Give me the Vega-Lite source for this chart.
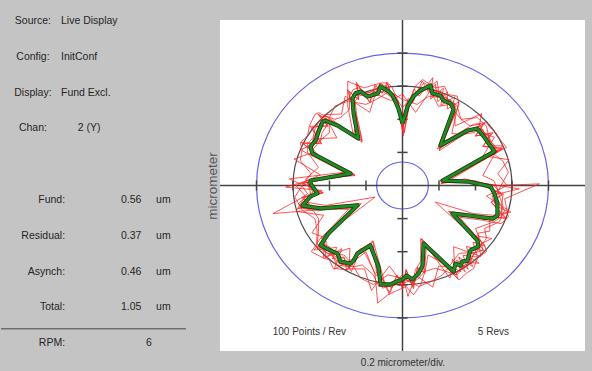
{
  "$schema": "https://vega.github.io/schema/vega-lite/v6.json",
  "background": "#c4c4c4",
  "padding": {"left": 0, "top": 16, "right": 8, "bottom": 5},
  "bounds": "flush",
  "spacing": 23,
  "config": {"font": "Liberation Sans", "view": {"stroke": null}, "axis": {"grid": false}},
  "datasets": {
    "info": [
      {"k": 0, "label": "Source:", "value": "Live Display"},
      {"k": 1, "label": "Config:", "value": "InitConf"},
      {"k": 2, "label": "Display:", "value": "Fund Excl."},
      {"k": 3, "label": "Chan:", "value": "2 (Y)"}
    ],
    "meas": [
      {"k": 5, "label": "Fund:", "value": "0.56", "unit": "um"},
      {"k": 6, "label": "Residual:", "value": "0.37", "unit": "um"},
      {"k": 7, "label": "Asynch:", "value": "0.46", "unit": "um"},
      {"k": 8, "label": "Total:", "value": "1.05", "unit": "um"},
      {"k": 9, "label": "RPM:", "value": "6"}
    ],
    "rings": [
      {"ring": "outer", "r": 4},
      {"ring": "mid", "r": 3},
      {"ring": "inner", "r": 0.71}
    ],
    "ticks": [{"t": -4}, {"t": -3}, {"t": -2}, {"t": -1}, {"t": 1}, {"t": 2}, {"t": 3}, {"t": 4}],
    "green": [
      {"x":0,"y":1.87},{"x":0.14,"y":2.39},{"x":0.3,"y":2.69},{"x":0.49,"y":2.87},{"x":0.77,"y":3.02},{"x":0.82,"y":2.78},{"x":1.04,"y":2.72},{"x":1.12,"y":2.57},{"x":1.32,"y":2.48},{"x":1.4,"y":2.3},{"x":1.04,"y":1.21},{"x":1.78,"y":1.66},{"x":2.05,"y":1.72},{"x":2.14,"y":1.6},{"x":2.25,"y":1.45},{"x":2.36,"y":1.27},{"x":2.52,"y":1.03},{"x":1.1,"y":0.15},{"x":1.78,"y":0.12},{"x":2.41,"y":-0.03},{"x":2.52,"y":-0.24},{"x":2.6,"y":-0.54},{"x":2.6,"y":-0.91},{"x":2.47,"y":-1},{"x":2.05,"y":-0.94},{"x":1.86,"y":-0.91},{"x":1.37,"y":-0.85},{"x":2.05,"y":-1.66},{"x":2.08,"y":-1.84},{"x":1.86,"y":-1.96},{"x":1.78,"y":-2.27},{"x":1.64,"y":-2.3},{"x":1.59,"y":-2.42},{"x":1.45,"y":-2.36},{"x":1.4,"y":-2.6},{"x":0.58,"y":-1.75},{"x":0.55,"y":-2.42},{"x":0.44,"y":-2.66},{"x":0.27,"y":-2.84},{"x":0.11,"y":-2.72},{"x":0,"y":-2.84},{"x":-0.16,"y":-2.9},{"x":-0.33,"y":-2.99},{"x":-0.6,"y":-2.99},{"x":-0.66,"y":-2.45},{"x":-0.88,"y":-1.81},{"x":-1.23,"y":-2.05},{"x":-1.34,"y":-2.27},{"x":-1.42,"y":-2.36},{"x":-1.7,"y":-2.3},{"x":-1.78,"y":-2.05},{"x":-1.92,"y":-1.99},{"x":-2.25,"y":-1.81},{"x":-2.03,"y":-1.45},{"x":-1.23,"y":-0.6},{"x":-2.25,"y":-0.69},{"x":-2.6,"y":-0.63},{"x":-2.74,"y":-0.6},{"x":-2.52,"y":-0.33},{"x":-2.33,"y":-0.24},{"x":-2.52,"y":0.06},{"x":-2.52,"y":0.15},{"x":-1.42,"y":0.36},{"x":-2.47,"y":0.97},{"x":-2.52,"y":1.18},{"x":-2.38,"y":1.36},{"x":-2.3,"y":1.63},{"x":-2.19,"y":1.93},{"x":-2.11,"y":1.96},{"x":-1.78,"y":1.81},{"x":-1.21,"y":1.42},{"x":-1.34,"y":2.18},{"x":-1.37,"y":2.63},{"x":-1.29,"y":2.78},{"x":-1.15,"y":2.84},{"x":-0.96,"y":2.69},{"x":-0.68,"y":2.78},{"x":-0.6,"y":2.99},{"x":-0.38,"y":2.84},{"x":-0.27,"y":2.72},{"x":-0.11,"y":2.33},{"x":0,"y":1.87}
    ],
    "red": [
      {"s":1,"x":0.05,"y":1.6},{"s":1,"x":0.2,"y":2.5},{"s":1,"x":0.35,"y":2.8},{"s":1,"x":0.6,"y":3.1},{"s":1,"x":0.85,"y":2.9},{"s":1,"x":1.1,"y":2.8},{"s":1,"x":1.3,"y":2.55},{"s":1,"x":1.45,"y":2.4},{"s":1,"x":1.0,"y":1.1},{"s":1,"x":1.85,"y":1.7},{"s":1,"x":2.15,"y":1.7},{"s":1,"x":2.3,"y":1.5},{"s":1,"x":2.5,"y":1.2},{"s":1,"x":2.6,"y":1.0},{"s":1,"x":1.05,"y":0.1},{"s":1,"x":1.9,"y":0.15},{"s":1,"x":2.5,"y":0.0},{"s":1,"x":2.75,"y":-0.3},{"s":1,"x":2.7,"y":-0.8},{"s":1,"x":2.5,"y":-1.05},{"s":1,"x":1.9,"y":-0.95},{"s":1,"x":1.3,"y":-0.8},{"s":1,"x":2.1,"y":-1.7},{"s":1,"x":2.0,"y":-2.0},{"s":1,"x":1.8,"y":-2.35},{"s":1,"x":1.6,"y":-2.5},{"s":1,"x":1.45,"y":-2.7},{"s":1,"x":0.6,"y":-1.7},{"s":1,"x":0.5,"y":-2.5},{"s":1,"x":0.3,"y":-2.95},{"s":1,"x":0.05,"y":-2.8},{"s":1,"x":-0.2,"y":-3.0},{"s":1,"x":-0.55,"y":-3.1},{"s":1,"x":-0.7,"y":-2.5},{"s":1,"x":-0.9,"y":-1.75},{"s":1,"x":-1.3,"y":-2.1},{"s":1,"x":-1.45,"y":-2.45},{"s":1,"x":-1.75,"y":-2.35},{"s":1,"x":-2.0,"y":-2.0},{"s":1,"x":-2.3,"y":-1.85},{"s":1,"x":-2.1,"y":-1.45},{"s":1,"x":-1.2,"y":-0.55},{"s":1,"x":-2.3,"y":-0.75},{"s":1,"x":-2.8,"y":-0.65},{"s":1,"x":-2.5,"y":-0.3},{"s":1,"x":-2.6,"y":0.1},{"s":1,"x":-1.4,"y":0.4},{"s":1,"x":-2.5,"y":1.0},{"s":1,"x":-2.45,"y":1.4},{"s":1,"x":-2.25,"y":1.9},{"s":1,"x":-1.8,"y":1.85},{"s":1,"x":-1.2,"y":1.4},{"s":1,"x":-1.35,"y":2.3},{"s":1,"x":-1.3,"y":2.85},{"s":1,"x":-1.0,"y":2.75},{"s":1,"x":-0.6,"y":3.0},{"s":1,"x":-0.3,"y":2.8},{"s":1,"x":-0.1,"y":2.2},{"s":1,"x":0.05,"y":1.6},
      {"s":1,"x":0,"y":1.68},{"s":1,"x":0.15,"y":2.63},{"s":1,"x":0.28,"y":2.5},{"s":1,"x":0.54,"y":3.16},{"s":1,"x":0.72,"y":2.81},{"s":1,"x":0.9,"y":3.06},{"s":1,"x":0.97,"y":2.53},{"s":1,"x":1.23,"y":2.83},{"s":1,"x":1.23,"y":2.31},{"s":1,"x":1.54,"y":2.53},{"s":1,"x":1.35,"y":1.57},{"s":1,"x":1.66,"y":1.54},{"s":1,"x":2.26,"y":1.89},{"s":1,"x":1.99,"y":1.49},{"s":1,"x":2.48,"y":1.6},{"s":1,"x":2.19,"y":1.18},{"s":1,"x":2.77,"y":1.13},{"s":1,"x":1.32,"y":0.18},{"s":1,"x":1.96,"y":0.13},{"s":1,"x":2.24,"y":-0.03},{"s":1,"x":2.77,"y":-0.26},{"s":1,"x":2.42,"y":-0.5},{"s":1,"x":2.86,"y":-1.0},{"s":1,"x":2.3,"y":-0.93},{"s":1,"x":2.26,"y":-1.03},{"s":1,"x":1.73,"y":-0.85},{"s":1,"x":1.58,"y":-0.98},{"s":1,"x":2.26,"y":-1.83},{"s":1,"x":1.93,"y":-1.71},{"s":1,"x":2.05,"y":-2.16},{"s":1,"x":1.66,"y":-2.11},{"s":1,"x":1.8,"y":-2.53},{"s":1,"x":1.48,"y":-2.25},{"s":1,"x":1.6,"y":-2.6},{"s":1,"x":1.33,"y":-2.47},{"s":1,"x":0.7,"y":-2.1},{"s":1,"x":0.61,"y":-2.66},{"s":1,"x":0.41,"y":-2.47},{"s":1,"x":0.3,"y":-3.12},{"s":1,"x":0.1,"y":-2.53},{"s":1,"x":0,"y":-3.12},{"s":1,"x":-0.15,"y":-2.7},{"s":1,"x":-0.36,"y":-3.29},{"s":1,"x":-0.56,"y":-2.78},{"s":1,"x":-0.73,"y":-2.7},{"s":1,"x":-1.01,"y":-2.08},{"s":1,"x":-1.14,"y":-1.91},{"s":1,"x":-1.47,"y":-2.5},{"s":1,"x":-1.32,"y":-2.19},{"s":1,"x":-1.87,"y":-2.53},{"s":1,"x":-1.66,"y":-1.91},{"s":1,"x":-2.11,"y":-2.19},{"s":1,"x":-2.09,"y":-1.68},{"s":1,"x":-2.23,"y":-1.6},{"s":1,"x":-1.48,"y":-0.72},{"s":1,"x":-2.09,"y":-0.64},{"s":1,"x":-2.86,"y":-0.69},{"s":1,"x":-2.55,"y":-0.56},{"s":1,"x":-2.77,"y":-0.36},{"s":1,"x":-2.17,"y":-0.22},{"s":1,"x":-2.77,"y":0.07},{"s":1,"x":-2.34,"y":0.14},{"s":1,"x":-1.56,"y":0.4},{"s":1,"x":-2.3,"y":0.9},{"s":1,"x":-2.77,"y":1.3},{"s":1,"x":-2.21,"y":1.26},{"s":1,"x":-2.53,"y":1.79},{"s":1,"x":-2.04,"y":1.79},{"s":1,"x":-2.32,"y":2.16},{"s":1,"x":-1.66,"y":1.68},{"s":1,"x":-1.33,"y":1.56},{"s":1,"x":-1.25,"y":2.03},{"s":1,"x":-1.51,"y":2.89},{"s":1,"x":-1.2,"y":2.59},{"s":1,"x":-1.27,"y":3.12},{"s":1,"x":-0.89,"y":2.5},{"s":1,"x":-0.75,"y":3.06},{"s":1,"x":-0.56,"y":2.78},{"s":1,"x":-0.42,"y":3.12},{"s":1,"x":-0.25,"y":2.53},{"s":1,"x":-0.12,"y":2.56},{"s":1,"x":0,"y":1.68},
      {"s":2,"x":0,"y":2.6},{"s":2,"x":0.4,"y":2.45},{"s":2,"x":0.72,"y":2.7},{"s":2,"x":1.1,"y":2.65},{"s":2,"x":1.35,"y":2.34},{"s":2,"x":1.6,"y":2.0},{"s":2,"x":2.05,"y":2.05},{"s":2,"x":2.3,"y":1.8},{"s":2,"x":2.38,"y":1.38},{"s":2,"x":2.45,"y":1.0},{"s":2,"x":2.75,"y":0.74},{"s":2,"x":2.9,"y":0.4},{"s":2,"x":2.7,"y":0},{"s":2,"x":2.55,"y":-0.35},{"s":2,"x":2.8,"y":-0.75},{"s":2,"x":2.65,"y":-1.1},{"s":2,"x":2.25,"y":-1.3},{"s":2,"x":2.3,"y":-1.6},{"s":2,"x":2.02,"y":-2.02},{"s":2,"x":1.55,"y":-2.05},{"s":2,"x":1.35,"y":-2.34},{"s":2,"x":1.1,"y":-2.7},{"s":2,"x":0.78,"y":-2.9},{"s":2,"x":0.45,"y":-3.05},{"s":2,"x":0,"y":-2.8},{"s":2,"x":-0.4,"y":-2.7},{"s":2,"x":-0.8,"y":-2.99},{"s":2,"x":-1.15,"y":-2.8},{"s":2,"x":-1.38,"y":-2.38},{"s":2,"x":-1.6,"y":-2.1},{"s":2,"x":-2.05,"y":-2.05},{"s":2,"x":-2.35,"y":-1.75},{"s":2,"x":-2.34,"y":-1.35},{"s":2,"x":-2.4,"y":-1.0},{"s":2,"x":-2.75,"y":-0.74},{"s":2,"x":-2.95,"y":-0.35},{"s":2,"x":-2.75,"y":0},{"s":2,"x":-2.5,"y":0.35},{"s":2,"x":-2.8,"y":0.75},{"s":2,"x":-2.75,"y":1.1},{"s":2,"x":-2.29,"y":1.33},{"s":2,"x":-2.0,"y":1.6},{"s":2,"x":-2.02,"y":2.02},{"s":2,"x":-1.85,"y":2.4},{"s":2,"x":-1.48,"y":2.55},{"s":2,"x":-1.0,"y":2.45},{"s":2,"x":-0.7,"y":2.61},{"s":2,"x":-0.35,"y":2.85},{"s":2,"x":0,"y":2.6},
      {"s":2,"x":0,"y":2.76},{"s":2,"x":0.36,"y":2.21},{"s":2,"x":0.76,"y":2.86},{"s":2,"x":0.99,"y":2.39},{"s":2,"x":1.43,"y":2.48},{"s":2,"x":1.44,"y":1.8},{"s":2,"x":2.17,"y":2.17},{"s":2,"x":2.07,"y":1.62},{"s":2,"x":2.52,"y":1.46},{"s":2,"x":2.21,"y":0.9},{"s":2,"x":2.92,"y":0.78},{"s":2,"x":2.61,"y":0.36},{"s":2,"x":2.86,"y":0},{"s":2,"x":2.3,"y":-0.32},{"s":2,"x":2.97,"y":-0.8},{"s":2,"x":2.39,"y":-0.99},{"s":2,"x":2.39,"y":-1.38},{"s":2,"x":2.07,"y":-1.44},{"s":2,"x":2.14,"y":-2.14},{"s":2,"x":1.4,"y":-1.85},{"s":2,"x":1.43,"y":-2.48},{"s":2,"x":0.99,"y":-2.43},{"s":2,"x":0.83,"y":-3.07},{"s":2,"x":0.41,"y":-2.75},{"s":2,"x":0,"y":-2.97},{"s":2,"x":-0.36,"y":-2.43},{"s":2,"x":-0.85,"y":-3.17},{"s":2,"x":-1.04,"y":-2.52},{"s":2,"x":-1.46,"y":-2.52},{"s":2,"x":-1.44,"y":-1.89},{"s":2,"x":-2.17,"y":-2.17},{"s":2,"x":-2.12,"y":-1.58},{"s":2,"x":-2.48,"y":-1.43},{"s":2,"x":-2.16,"y":-0.9},{"s":2,"x":-2.92,"y":-0.78},{"s":2,"x":-2.66,"y":-0.32},{"s":2,"x":-2.92,"y":0},{"s":2,"x":-2.25,"y":0.32},{"s":2,"x":-2.97,"y":0.8},{"s":2,"x":-2.48,"y":0.99},{"s":2,"x":-2.43,"y":1.41},{"s":2,"x":-1.8,"y":1.44},{"s":2,"x":-2.14,"y":2.14},{"s":2,"x":-1.67,"y":2.16},{"s":2,"x":-1.57,"y":2.7},{"s":2,"x":-0.9,"y":2.21},{"s":2,"x":-0.74,"y":2.77},{"s":2,"x":-0.32,"y":2.57},{"s":2,"x":0,"y":2.76},
      {"s":3,"x":0.02,"y":1.5},{"s":3,"x":0.2,"y":2.6},{"s":3,"x":0.35,"y":3.0},{"s":3,"x":0.55,"y":3.2},{"s":3,"x":0.9,"y":2.95},{"s":3,"x":1.15,"y":3.0},{"s":3,"x":1.25,"y":2.75},{"s":3,"x":1.5,"y":2.7},{"s":3,"x":1.55,"y":2.45},{"s":3,"x":1.1,"y":1.3},{"s":3,"x":1.95,"y":1.85},{"s":3,"x":2.3,"y":1.9},{"s":3,"x":2.4,"y":1.75},{"s":3,"x":2.55,"y":1.6},{"s":3,"x":2.7,"y":1.35},{"s":3,"x":2.85,"y":1.15},{"s":3,"x":1.2,"y":0.2},{"s":3,"x":1.95,"y":0.1},{"s":3,"x":2.65,"y":0.0},{"s":3,"x":3.75,"y":0.05},{"s":3,"x":2.8,"y":-0.4},{"s":3,"x":2.9,"y":-0.95},{"s":3,"x":2.7,"y":-1.15},{"s":3,"x":2.2,"y":-1.05},{"s":3,"x":1.5,"y":-0.95},{"s":3,"x":2.25,"y":-1.8},{"s":3,"x":2.3,"y":-2.0},{"s":3,"x":2.05,"y":-2.2},{"s":3,"x":1.95,"y":-2.5},{"s":3,"x":1.75,"y":-2.65},{"s":3,"x":1.55,"y":-2.85},{"s":3,"x":0.65,"y":-1.9},{"s":3,"x":0.6,"y":-2.65},{"s":3,"x":0.5,"y":-3.0},{"s":3,"x":0.3,"y":-3.3},{"s":3,"x":0.1,"y":-3.05},{"s":3,"x":-0.2,"y":-3.2},{"s":3,"x":-0.4,"y":-3.3},{"s":3,"x":-0.68,"y":-3.55},{"s":3,"x":-0.75,"y":-2.7},{"s":3,"x":-1.0,"y":-2.0},{"s":3,"x":-1.35,"y":-2.3},{"s":3,"x":-1.5,"y":-2.55},{"s":3,"x":-1.9,"y":-2.5},{"s":3,"x":-2.0,"y":-2.25},{"s":3,"x":-2.15,"y":-2.2},{"s":3,"x":-2.5,"y":-2.0},{"s":3,"x":-2.25,"y":-1.6},{"s":3,"x":-1.35,"y":-0.7},{"s":3,"x":-2.5,"y":-0.75},{"s":3,"x":-3.55,"y":-0.85},{"s":3,"x":-2.8,"y":-0.4},{"s":3,"x":-2.6,"y":-0.25},{"s":3,"x":-2.8,"y":0.05},{"s":3,"x":-3.1,"y":0.2},{"s":3,"x":-1.6,"y":0.4},{"s":3,"x":-2.75,"y":1.05},{"s":3,"x":-2.8,"y":1.3},{"s":3,"x":-2.6,"y":1.5},{"s":3,"x":-2.55,"y":1.8},{"s":3,"x":-2.4,"y":2.15},{"s":3,"x":-2.3,"y":2.2},{"s":3,"x":-1.95,"y":2.0},{"s":3,"x":-1.35,"y":1.55},{"s":3,"x":-1.5,"y":2.4},{"s":3,"x":-1.5,"y":3.15},{"s":3,"x":-1.4,"y":3.1},{"s":3,"x":-1.05,"y":2.95},{"s":3,"x":-0.75,"y":3.05},{"s":3,"x":-0.55,"y":3.1},{"s":3,"x":-0.42,"y":3.1},{"s":3,"x":-0.3,"y":3.0},{"s":3,"x":-0.12,"y":2.55},{"s":3,"x":0.02,"y":1.5},
      {"s":4,"x":0,"y":2.35},{"s":4,"x":0.15,"y":2.55},{"s":4,"x":0.3,"y":2.75},{"s":4,"x":0.5,"y":2.95},{"s":4,"x":0.8,"y":2.85},{"s":4,"x":1.05,"y":2.85},{"s":4,"x":1.15,"y":2.65},{"s":4,"x":1.35,"y":2.55},{"s":4,"x":1.5,"y":2.4},{"s":4,"x":1.6,"y":2.0},{"s":4,"x":1.85,"y":1.8},{"s":4,"x":2.1,"y":1.85},{"s":4,"x":2.2,"y":1.65},{"s":4,"x":2.35,"y":1.5},{"s":4,"x":2.45,"y":1.3},{"s":4,"x":2.6,"y":1.1},{"s":4,"x":2.2,"y":0.3},{"s":4,"x":2.5,"y":0.15},{"s":4,"x":2.6,"y":-0.1},{"s":4,"x":2.65,"y":-0.3},{"s":4,"x":2.75,"y":-0.6},{"s":4,"x":2.7,"y":-0.95},{"s":4,"x":2.5,"y":-1.1},{"s":4,"x":2.0,"y":-1.3},{"s":4,"x":2.15,"y":-1.7},{"s":4,"x":2.2,"y":-1.95},{"s":4,"x":1.95,"y":-2.05},{"s":4,"x":1.85,"y":-2.35},{"s":4,"x":1.7,"y":-2.4},{"s":4,"x":1.6,"y":-2.55},{"s":4,"x":1.5,"y":-2.7},{"s":4,"x":0.9,"y":-2.5},{"s":4,"x":0.6,"y":-2.6},{"s":4,"x":0.45,"y":-2.8},{"s":4,"x":0.25,"y":-2.95},{"s":4,"x":0.1,"y":-2.85},{"s":4,"x":-0.05,"y":-2.95},{"s":4,"x":-0.2,"y":-3.0},{"s":4,"x":-0.4,"y":-3.05},{"s":4,"x":-0.65,"y":-3.05},{"s":4,"x":-0.8,"y":-2.7},{"s":4,"x":-1.1,"y":-2.4},{"s":4,"x":-1.3,"y":-2.45},{"s":4,"x":-1.5,"y":-2.45},{"s":4,"x":-1.8,"y":-2.4},{"s":4,"x":-1.9,"y":-2.15},{"s":4,"x":-2.05,"y":-2.05},{"s":4,"x":-2.35,"y":-1.85},{"s":4,"x":-2.3,"y":-1.4},{"s":4,"x":-2.3,"y":-1.0},{"s":4,"x":-2.45,"y":-0.75},{"s":4,"x":-2.7,"y":-0.7},{"s":4,"x":-2.85,"y":-0.55},{"s":4,"x":-2.6,"y":-0.3},{"s":4,"x":-2.45,"y":-0.2},{"s":4,"x":-2.6,"y":0.05},{"s":4,"x":-2.65,"y":0.2},{"s":4,"x":-2.3,"y":0.55},{"s":4,"x":-2.6,"y":1.0},{"s":4,"x":-2.6,"y":1.25},{"s":4,"x":-2.45,"y":1.45},{"s":4,"x":-2.4,"y":1.7},{"s":4,"x":-2.25,"y":2.0},{"s":4,"x":-2.1,"y":2.1},{"s":4,"x":-1.85,"y":2.0},{"s":4,"x":-1.7,"y":2.05},{"s":4,"x":-1.45,"y":2.3},{"s":4,"x":-1.45,"y":2.7},{"s":4,"x":-1.35,"y":2.9},{"s":4,"x":-1.2,"y":2.95},{"s":4,"x":-1.0,"y":2.8},{"s":4,"x":-0.7,"y":2.85},{"s":4,"x":-0.62,"y":3.1},{"s":4,"x":-0.4,"y":2.95},{"s":4,"x":-0.3,"y":2.8},{"s":4,"x":-0.15,"y":2.6},{"s":4,"x":0,"y":2.35},
      {"s":4,"x":0,"y":1.72},{"s":4,"x":0.13,"y":2.25},{"s":4,"x":0.32,"y":2.91},{"s":4,"x":0.46,"y":2.7},{"s":4,"x":0.83,"y":3.26},{"s":4,"x":0.77,"y":2.61},{"s":4,"x":1.12,"y":2.94},{"s":4,"x":1.05,"y":2.42},{"s":4,"x":1.43,"y":2.68},{"s":4,"x":1.32,"y":2.16},{"s":4,"x":0.96,"y":1.11},{"s":4,"x":1.67,"y":1.56},{"s":4,"x":2.21,"y":1.86},{"s":4,"x":2.01,"y":1.5},{"s":4,"x":2.43,"y":1.57},{"s":4,"x":2.22,"y":1.19},{"s":4,"x":2.72,"y":1.11},{"s":4,"x":1.01,"y":0.14},{"s":4,"x":1.92,"y":0.13},{"s":4,"x":2.27,"y":-0.03},{"s":4,"x":2.72,"y":-0.26},{"s":4,"x":2.44,"y":-0.51},{"s":4,"x":2.81,"y":-0.98},{"s":4,"x":2.32,"y":-0.94},{"s":4,"x":2.21,"y":-1.02},{"s":4,"x":1.75,"y":-0.86},{"s":4,"x":1.26,"y":-0.78},{"s":4,"x":1.93,"y":-1.56},{"s":4,"x":2.25,"y":-1.99},{"s":4,"x":1.75,"y":-1.84},{"s":4,"x":1.92,"y":-2.45},{"s":4,"x":1.54,"y":-2.16},{"s":4,"x":1.72,"y":-2.61},{"s":4,"x":1.36,"y":-2.22},{"s":4,"x":1.51,"y":-2.81},{"s":4,"x":0.53,"y":-1.61},{"s":4,"x":0.59,"y":-2.61},{"s":4,"x":0.41,"y":-2.5},{"s":4,"x":0.29,"y":-3.07},{"s":4,"x":0.1,"y":-2.56},{"s":4,"x":0,"y":-3.07},{"s":4,"x":-0.15,"y":-2.73},{"s":4,"x":-0.36,"y":-3.23},{"s":4,"x":-0.56,"y":-2.81},{"s":4,"x":-0.71,"y":-2.65},{"s":4,"x":-0.81,"y":-1.67},{"s":4,"x":-1.33,"y":-2.21},{"s":4,"x":-1.26,"y":-2.13},{"s":4,"x":-1.53,"y":-2.55},{"s":4,"x":-1.6,"y":-2.16},{"s":4,"x":-1.92,"y":-2.21},{"s":4,"x":-1.8,"y":-1.87},{"s":4,"x":-2.43,"y":-1.95},{"s":4,"x":-1.91,"y":-1.36},{"s":4,"x":-1.13,"y":-0.55},{"s":4,"x":-2.12,"y":-0.65},{"s":4,"x":-2.81,"y":-0.68},{"s":4,"x":-2.58,"y":-0.56},{"s":4,"x":-2.72,"y":-0.36},{"s":4,"x":-2.19,"y":-0.23},{"s":4,"x":-2.72,"y":0.06},{"s":4,"x":-2.37,"y":0.14},{"s":4,"x":-1.31,"y":0.33},{"s":4,"x":-2.32,"y":0.91},{"s":4,"x":-2.72,"y":1.27},{"s":4,"x":-2.24,"y":1.28},{"s":4,"x":-2.48,"y":1.76},{"s":4,"x":-2.06,"y":1.81},{"s":4,"x":-2.28,"y":2.12},{"s":4,"x":-1.67,"y":1.7},{"s":4,"x":-1.11,"y":1.31},{"s":4,"x":-1.26,"y":2.05},{"s":4,"x":-1.48,"y":2.84},{"s":4,"x":-1.21,"y":2.61},{"s":4,"x":-1.24,"y":3.07},{"s":4,"x":-0.9,"y":2.53},{"s":4,"x":-0.73,"y":3.0},{"s":4,"x":-0.56,"y":2.81},{"s":4,"x":-0.41,"y":3.07},{"s":4,"x":-0.25,"y":2.56},{"s":4,"x":-0.12,"y":2.52},{"s":4,"x":0,"y":1.72},
      {"s":5,"x":0,"y":1.7},{"s":5,"x":0.1,"y":2.45},{"s":5,"x":0.25,"y":2.6},{"s":5,"x":0.45,"y":2.8},{"s":5,"x":0.7,"y":2.95},{"s":5,"x":0.95,"y":3.15},{"s":5,"x":1.0,"y":2.7},{"s":5,"x":1.2,"y":2.65},{"s":5,"x":1.35,"y":2.45},{"s":5,"x":1.45,"y":2.2},{"s":5,"x":1.0,"y":1.05},{"s":5,"x":1.7,"y":1.55},{"s":5,"x":1.95,"y":1.6},{"s":5,"x":2.2,"y":1.7},{"s":5,"x":2.3,"y":1.4},{"s":5,"x":2.45,"y":1.2},{"s":5,"x":2.75,"y":1.2},{"s":5,"x":2.5,"y":0.95},{"s":5,"x":1.05,"y":0.05},{"s":5,"x":1.7,"y":0.2},{"s":5,"x":2.3,"y":0.05},{"s":5,"x":3.2,"y":-0.1},{"s":5,"x":2.45,"y":-0.3},{"s":5,"x":2.55,"y":-0.6},{"s":5,"x":2.9,"y":-0.8},{"s":5,"x":2.5,"y":-0.9},{"s":5,"x":1.95,"y":-0.85},{"s":5,"x":0.9,"y":-0.5},{"s":5,"x":1.9,"y":-1.5},{"s":5,"x":2.45,"y":-1.6},{"s":5,"x":2.0,"y":-1.85},{"s":5,"x":1.75,"y":-2.1},{"s":5,"x":2.1,"y":-2.35},{"s":5,"x":1.55,"y":-2.3},{"s":5,"x":1.35,"y":-2.5},{"s":5,"x":1.3,"y":-2.8},{"s":5,"x":0.5,"y":-1.6},{"s":5,"x":0.5,"y":-2.3},{"s":5,"x":0.35,"y":-2.55},{"s":5,"x":0.3,"y":-2.9},{"s":5,"x":0.15,"y":-3.35},{"s":5,"x":0.0,"y":-2.7},{"s":5,"x":-0.1,"y":-2.8},{"s":5,"x":-0.3,"y":-3.1},{"s":5,"x":-0.5,"y":-2.9},{"s":5,"x":-0.62,"y":-2.4},{"s":5,"x":-0.8,"y":-1.7},{"s":5,"x":-1.2,"y":-1.95},{"s":5,"x":-1.25,"y":-2.2},{"s":5,"x":-1.4,"y":-2.6},{"s":5,"x":-1.6,"y":-2.2},{"s":5,"x":-1.85,"y":-2.15},{"s":5,"x":-2.0,"y":-1.85},{"s":5,"x":-2.2,"y":-1.75},{"s":5,"x":-1.95,"y":-1.35},{"s":5,"x":-0.75,"y":-0.35},{"s":5,"x":-2.1,"y":-0.6},{"s":5,"x":-2.4,"y":-0.55},{"s":5,"x":-2.65,"y":-0.5},{"s":5,"x":-2.4,"y":-0.3},{"s":5,"x":-2.2,"y":-0.15},{"s":5,"x":-3.2,"y":-0.05},{"s":5,"x":-2.45,"y":0.2},{"s":5,"x":-1.3,"y":0.3},{"s":5,"x":-2.3,"y":0.9},{"s":5,"x":-2.45,"y":1.1},{"s":5,"x":-2.25,"y":1.35},{"s":5,"x":-2.2,"y":1.6},{"s":5,"x":-2.05,"y":1.85},{"s":5,"x":-2.0,"y":2.0},{"s":5,"x":-1.65,"y":1.75},{"s":5,"x":-1.1,"y":1.35},{"s":5,"x":-1.25,"y":2.1},{"s":5,"x":-1.3,"y":2.55},{"s":5,"x":-1.2,"y":2.7},{"s":5,"x":-1.05,"y":2.75},{"s":5,"x":-0.9,"y":2.65},{"s":5,"x":-0.75,"y":2.7},{"s":5,"x":-0.55,"y":2.85},{"s":5,"x":-0.4,"y":2.75},{"s":5,"x":-0.25,"y":2.6},{"s":5,"x":-0.05,"y":2.2},{"s":5,"x":0,"y":1.7}
    ]
  },
  "hconcat": [
    {
      "width": 196,
      "height": 331,
      "view": {"stroke": null},
      "layer": [
        {
          "data": {"name": "info"},
          "mark": {"type": "text", "align": "center", "baseline": "middle", "fontSize": 10.5, "color": "#262626"},
          "encoding": {
            "x": {"datum": 16.3, "scale": {"domain": [0, 100], "nice": false, "zero": false}, "axis": null},
            "y": {"field": "k", "type": "quantitative", "scale": {"domain": [-0.03, 9.22], "reverse": true, "nice": false, "zero": false}, "axis": null},
            "text": {"field": "label"}
          }
        },
        {
          "data": {"name": "info"},
          "transform": [{"filter": "datum.k < 3"}],
          "mark": {"type": "text", "align": "left", "baseline": "middle", "fontSize": 10.5, "color": "#262626"},
          "encoding": {
            "x": {"datum": 30.6, "scale": {"domain": [0, 100], "nice": false, "zero": false}, "axis": null},
            "y": {"field": "k", "type": "quantitative", "scale": {"domain": [-0.03, 9.22], "reverse": true, "nice": false, "zero": false}, "axis": null},
            "text": {"field": "value"}
          }
        },
        {
          "data": {"name": "info"},
          "transform": [{"filter": "datum.k == 3"}],
          "mark": {"type": "text", "align": "center", "baseline": "middle", "fontSize": 10.5, "color": "#262626"},
          "encoding": {
            "x": {"datum": 44.9, "scale": {"domain": [0, 100], "nice": false, "zero": false}, "axis": null},
            "y": {"field": "k", "type": "quantitative", "scale": {"domain": [-0.03, 9.22], "reverse": true, "nice": false, "zero": false}, "axis": null},
            "text": {"field": "value"}
          }
        },
        {
          "data": {"name": "meas"},
          "mark": {"type": "text", "align": "right", "baseline": "middle", "fontSize": 10.5, "color": "#262626"},
          "encoding": {
            "x": {"datum": 32.7, "scale": {"domain": [0, 100], "nice": false, "zero": false}, "axis": null},
            "y": {"field": "k", "type": "quantitative", "scale": {"domain": [-0.03, 9.22], "reverse": true, "nice": false, "zero": false}, "axis": null},
            "text": {"field": "label"}
          }
        },
        {
          "data": {"name": "meas"},
          "transform": [{"filter": "datum.k < 9"}],
          "mark": {"type": "text", "align": "left", "baseline": "middle", "fontSize": 10.5, "color": "#262626"},
          "encoding": {
            "x": {"datum": 61.2, "scale": {"domain": [0, 100], "nice": false, "zero": false}, "axis": null},
            "y": {"field": "k", "type": "quantitative", "scale": {"domain": [-0.03, 9.22], "reverse": true, "nice": false, "zero": false}, "axis": null},
            "text": {"field": "value"}
          }
        },
        {
          "data": {"name": "meas"},
          "transform": [{"filter": "datum.k == 9"}],
          "mark": {"type": "text", "align": "center", "baseline": "middle", "fontSize": 10.5, "color": "#262626"},
          "encoding": {
            "x": {"datum": 75.5, "scale": {"domain": [0, 100], "nice": false, "zero": false}, "axis": null},
            "y": {"field": "k", "type": "quantitative", "scale": {"domain": [-0.03, 9.22], "reverse": true, "nice": false, "zero": false}, "axis": null},
            "text": {"field": "value"}
          }
        },
        {
          "data": {"name": "meas"},
          "transform": [{"filter": "datum.k < 9"}],
          "mark": {"type": "text", "align": "left", "baseline": "middle", "fontSize": 10.5, "color": "#262626"},
          "encoding": {
            "x": {"datum": 79.1, "scale": {"domain": [0, 100], "nice": false, "zero": false}, "axis": null},
            "y": {"field": "k", "type": "quantitative", "scale": {"domain": [-0.03, 9.22], "reverse": true, "nice": false, "zero": false}, "axis": null},
            "text": {"field": "unit"}
          }
        },
        {
          "data": {"values": [{}]},
          "mark": {"type": "rule", "color": "#6e6e6e", "strokeWidth": 1.5},
          "encoding": {
            "x": {"datum": 0, "scale": {"domain": [0, 100], "nice": false, "zero": false}, "axis": null},
            "x2": {"datum": 94.4},
            "y": {"datum": 8.6, "scale": {"domain": [-0.03, 9.22], "reverse": true, "nice": false, "zero": false}, "axis": null}
          }
        }
      ]
    },
    {
      "width": 365,
      "height": 331,
      "view": {"fill": "white", "stroke": null},
      "layer": [
        {
          "data": {"name": "rings"},
          "mark": {"type": "point", "shape": "M 1 0 C 1 0.501 0.5523 0.907 0 0.907 C -0.5523 0.907 -1 0.501 -1 0 C -1 -0.501 -0.5523 -0.907 0 -0.907 C 0.5523 -0.907 1 -0.501 1 0 Z", "filled": false, "strokeWidth": 1.2, "opacity": 1},
          "encoding": {
            "x": {"datum": 0, "scale": {"domain": [-5, 5], "nice": false, "zero": false},
                  "axis": {"title": "0.2 micrometer/div.", "domain": true, "domainOpacity": 0, "ticks": false, "labels": false, "grid": false, "titleFontSize": 10, "titleFontWeight": "normal", "titleColor": "#333333", "titlePadding": 6}},
            "y": {"datum": 0, "scale": {"domain": [-5, 5], "nice": false, "zero": false},
                  "axis": {"title": "micrometer", "domain": true, "domainOpacity": 0, "ticks": false, "labels": false, "grid": false, "titleFontSize": 13.5, "titleFontWeight": "normal", "titleColor": "#555555", "titlePadding": 1}},
            "size": {"field": "r", "type": "quantitative", "scale": {"type": "pow", "exponent": 2, "domain": [0, 4], "range": [0, 85264]}, "legend": null},
            "color": {"field": "ring", "type": "nominal", "scale": {"domain": ["outer", "mid", "inner"], "range": ["#6464e8", "#4d4d4d", "#6464e8"]}, "legend": null}
          }
        },
        {
          "data": {"values": [{}]},
          "mark": {"type": "rule", "color": "#444444", "strokeWidth": 1.5},
          "encoding": {"x": {"datum": 0, "scale": {"domain": [-5, 5], "nice": false, "zero": false},
                  "axis": {"title": "0.2 micrometer/div.", "domain": true, "domainOpacity": 0, "ticks": false, "labels": false, "grid": false, "titleFontSize": 10, "titleFontWeight": "normal", "titleColor": "#333333", "titlePadding": 6}}}
        },
        {
          "data": {"values": [{}]},
          "mark": {"type": "rule", "color": "#444444", "strokeWidth": 1.5},
          "encoding": {"y": {"datum": 0, "scale": {"domain": [-5, 5], "nice": false, "zero": false},
                  "axis": {"title": "micrometer", "domain": true, "domainOpacity": 0, "ticks": false, "labels": false, "grid": false, "titleFontSize": 13.5, "titleFontWeight": "normal", "titleColor": "#555555", "titlePadding": 1}}}
        },
        {
          "data": {"name": "ticks"},
          "mark": {"type": "rule", "color": "#444444", "strokeWidth": 1.5},
          "encoding": {
            "x": {"field": "t", "type": "quantitative", "scale": {"domain": [-5, 5], "nice": false, "zero": false},
                  "axis": {"title": "0.2 micrometer/div.", "domain": true, "domainOpacity": 0, "ticks": false, "labels": false, "grid": false, "titleFontSize": 10, "titleFontWeight": "normal", "titleColor": "#333333", "titlePadding": 6}},
            "y": {"datum": -0.15, "scale": {"domain": [-5, 5], "nice": false, "zero": false},
                  "axis": {"title": "micrometer", "domain": true, "domainOpacity": 0, "ticks": false, "labels": false, "grid": false, "titleFontSize": 13.5, "titleFontWeight": "normal", "titleColor": "#555555", "titlePadding": 1}},
            "y2": {"datum": 0.15}
          }
        },
        {
          "data": {"name": "ticks"},
          "mark": {"type": "rule", "color": "#444444", "strokeWidth": 1.5},
          "encoding": {
            "y": {"field": "t", "type": "quantitative", "scale": {"domain": [-5, 5], "nice": false, "zero": false},
                  "axis": {"title": "micrometer", "domain": true, "domainOpacity": 0, "ticks": false, "labels": false, "grid": false, "titleFontSize": 13.5, "titleFontWeight": "normal", "titleColor": "#555555", "titlePadding": 1}},
            "x": {"datum": -0.14, "scale": {"domain": [-5, 5], "nice": false, "zero": false},
                  "axis": {"title": "0.2 micrometer/div.", "domain": true, "domainOpacity": 0, "ticks": false, "labels": false, "grid": false, "titleFontSize": 10, "titleFontWeight": "normal", "titleColor": "#333333", "titlePadding": 6}},
            "x2": {"datum": 0.14}
          }
        },
        {
          "data": {"name": "red"},
          "mark": {"type": "line", "color": "#ff1f1f", "strokeWidth": 0.9, "opacity": 0.85},
          "encoding": {
            "x": {"field": "x", "type": "quantitative", "scale": {"domain": [-5, 5], "nice": false, "zero": false},
                  "axis": {"title": "0.2 micrometer/div.", "domain": true, "domainOpacity": 0, "ticks": false, "labels": false, "grid": false, "titleFontSize": 10, "titleFontWeight": "normal", "titleColor": "#333333", "titlePadding": 6}},
            "y": {"field": "y", "type": "quantitative", "scale": {"domain": [-5, 5], "nice": false, "zero": false},
                  "axis": {"title": "micrometer", "domain": true, "domainOpacity": 0, "ticks": false, "labels": false, "grid": false, "titleFontSize": 13.5, "titleFontWeight": "normal", "titleColor": "#555555", "titlePadding": 1}},
            "detail": {"field": "s", "type": "nominal"},
            "order": {"value": null}
          }
        },
        {
          "data": {"name": "green"},
          "mark": {"type": "line", "color": "#173a17", "strokeWidth": 4.2, "strokeJoin": "round"},
          "encoding": {
            "x": {"field": "x", "type": "quantitative", "scale": {"domain": [-5, 5], "nice": false, "zero": false},
                  "axis": {"title": "0.2 micrometer/div.", "domain": true, "domainOpacity": 0, "ticks": false, "labels": false, "grid": false, "titleFontSize": 10, "titleFontWeight": "normal", "titleColor": "#333333", "titlePadding": 6}},
            "y": {"field": "y", "type": "quantitative", "scale": {"domain": [-5, 5], "nice": false, "zero": false},
                  "axis": {"title": "micrometer", "domain": true, "domainOpacity": 0, "ticks": false, "labels": false, "grid": false, "titleFontSize": 13.5, "titleFontWeight": "normal", "titleColor": "#555555", "titlePadding": 1}},
            "order": {"value": null}
          }
        },
        {
          "data": {"name": "green"},
          "mark": {"type": "line", "color": "#228b22", "strokeWidth": 2.6, "strokeJoin": "round"},
          "encoding": {
            "x": {"field": "x", "type": "quantitative", "scale": {"domain": [-5, 5], "nice": false, "zero": false},
                  "axis": {"title": "0.2 micrometer/div.", "domain": true, "domainOpacity": 0, "ticks": false, "labels": false, "grid": false, "titleFontSize": 10, "titleFontWeight": "normal", "titleColor": "#333333", "titlePadding": 6}},
            "y": {"field": "y", "type": "quantitative", "scale": {"domain": [-5, 5], "nice": false, "zero": false},
                  "axis": {"title": "micrometer", "domain": true, "domainOpacity": 0, "ticks": false, "labels": false, "grid": false, "titleFontSize": 13.5, "titleFontWeight": "normal", "titleColor": "#555555", "titlePadding": 1}},
            "order": {"value": null}
          }
        },
        {
          "data": {"values": [{"note": "100 Points / Rev"}]},
          "mark": {"type": "text", "align": "center", "baseline": "middle", "fontSize": 10, "color": "#333333"},
          "encoding": {
            "x": {"datum": -2.55, "scale": {"domain": [-5, 5], "nice": false, "zero": false},
                  "axis": {"title": "0.2 micrometer/div.", "domain": true, "domainOpacity": 0, "ticks": false, "labels": false, "grid": false, "titleFontSize": 10, "titleFontWeight": "normal", "titleColor": "#333333", "titlePadding": 6}},
            "y": {"datum": -4.44, "scale": {"domain": [-5, 5], "nice": false, "zero": false},
                  "axis": {"title": "micrometer", "domain": true, "domainOpacity": 0, "ticks": false, "labels": false, "grid": false, "titleFontSize": 13.5, "titleFontWeight": "normal", "titleColor": "#555555", "titlePadding": 1}},
            "text": {"field": "note"}
          }
        },
        {
          "data": {"values": [{"note": "5 Revs"}]},
          "mark": {"type": "text", "align": "center", "baseline": "middle", "fontSize": 10, "color": "#333333"},
          "encoding": {
            "x": {"datum": 2.49, "scale": {"domain": [-5, 5], "nice": false, "zero": false},
                  "axis": {"title": "0.2 micrometer/div.", "domain": true, "domainOpacity": 0, "ticks": false, "labels": false, "grid": false, "titleFontSize": 10, "titleFontWeight": "normal", "titleColor": "#333333", "titlePadding": 6}},
            "y": {"datum": -4.44, "scale": {"domain": [-5, 5], "nice": false, "zero": false},
                  "axis": {"title": "micrometer", "domain": true, "domainOpacity": 0, "ticks": false, "labels": false, "grid": false, "titleFontSize": 13.5, "titleFontWeight": "normal", "titleColor": "#555555", "titlePadding": 1}},
            "text": {"field": "note"}
          }
        }
      ]
    }
  ]
}
